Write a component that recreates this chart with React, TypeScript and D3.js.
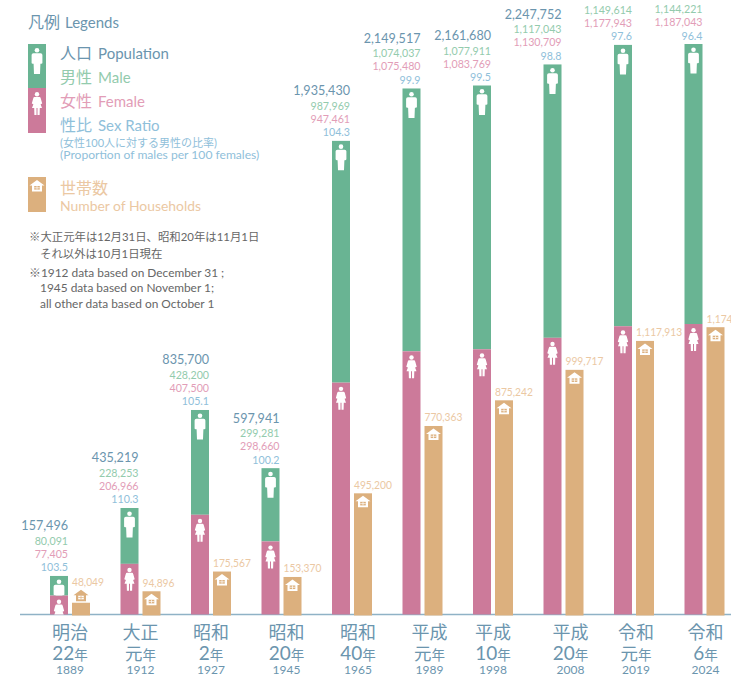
import React from "react";
import * as d3 from "d3";

const eras = ["明治","大正","昭和","昭和","昭和","平成","平成","平成","令和","令和"];
const eraYears = ["22","元","2","20","40","元","10","20","元","6"];
const years = ["1889","1912","1927","1945","1965","1989","1998","2008","2019","2024"];
const population = [157496,435219,835700,597941,1935430,2149517,2161680,2247752,2327557,2331264];
const males = [80091,228253,428200,299281,987969,1074037,1077911,1117043,1149614,1144221];
const females = [77405,206966,407500,298660,947461,1075480,1083769,1130709,1177943,1187043];
const ratios = ["103.5","110.3","105.1","100.2","104.3","99.9","99.5","98.8","97.6","96.4"];
const households = [48049,94896,175567,153370,495200,770363,875242,999717,1117913,1174000];
const labelNudge = [1,1,1,6,7,8,1,8,3,2];

const W = 731, H = 675;
const C = { pop:"#6b95ae", male:"#93cbad", female:"#e29db7", ratio:"#8fc0da", hh:"#ebc8a3",
  gMale:"#69b493", gFemale:"#cc7a9a", gHh:"#dcb07e", axis:"#8fb2c6", note:"#666666" };
const FONT = "Lato, 'Noto Sans CJK JP', sans-serif";
const BASE = 614.5;

const y = d3.scaleLinear().domain([0, 2331264]).range([BASE, 44]);
const xBand = d3.scaleBand<number>().domain(d3.range(years.length)).range([32, 737]);
const fmt = d3.format(",");
const BW = 18, GAP = 4;

function Man({ x, y: t, fill = "#fff" }: { x: number; y: number; fill?: string }) {
  return (
    <g transform={`translate(${x},${t})`} fill={fill}>
      <circle cx={0} cy={2.3} r={2.3} />
      <path d="M-3.6 5.3 H3.6 Q5.4 5.3 5.4 7 V15 Q5.4 15.8 4.2 15.8 L3.4 15.8 L3 26 H-3 L-3.4 15.8 L-4.2 15.8 Q-5.4 15.8 -5.4 15 V7 Q-5.4 5.3 -3.6 5.3Z" />
    </g>
  );
}
function Woman({ x, y: t, fill = "#fff" }: { x: number; y: number; fill?: string }) {
  return (
    <g transform={`translate(${x},${t})`} fill={fill}>
      <circle cx={0} cy={2.2} r={2.2} />
      <path d="M-2.6 5 H2.6 Q3.4 5 3.8 6.4 L5.2 11.5 L3.6 12.2 L5 16 H2.8 L2.6 23 H0.5 V16 H-0.5 V23 H-2.6 L-2.8 16 H-5 L-3.6 12.2 L-5.2 11.5 L-3.8 6.4 Q-3.4 5 -2.6 5 Z" />
    </g>
  );
}
function House({ x, y: t, fill = "#fff", hole }: { x: number; y: number; fill?: string; hole: string }) {
  return (
    <g transform={`translate(${x},${t})`}>
      <path d="M0 0 L7.5 5.5 H5 V11.5 H-5 V5.5 H-7.5 Z" fill={fill} />
      <rect x={-2.8} y={6} width={5.6} height={3.6} fill={hole} />
      <path d="M0 6 V9.6 M-2.8 7.8 H2.8" stroke={fill} strokeWidth={0.7} />
    </g>
  );
}

function T({ x, y: ty, size, fill, anchor = "start", sx = 1, children }: any) {
  return <text transform={`translate(${x},${ty}) scale(${sx},1)`} fontSize={size} fill={fill} textAnchor={anchor} fontFamily={FONT}>{children}</text>;
}

export default function App() {
  return (
    <svg width={W} height={H} viewBox={`0 0 ${W} ${H}`} style={{ position: "absolute", left: 0, top: 0, overflow: "hidden", background: "#fff" }}>
      <defs>
        {years.map((yr, i) => {
          const x0 = xBand(i)! + 18;
          return (
            <React.Fragment key={yr}>
              <clipPath id={`cm${i}`}><rect x={x0} y={y(population[i])} width={BW} height={y(females[i]) - y(population[i])} /></clipPath>
              <clipPath id={`cf${i}`}><rect x={x0} y={y(females[i])} width={BW} height={BASE - y(females[i])} /></clipPath>
            </React.Fragment>
          );
        })}
      </defs>

      {/* legend */}
      <T x={28} y={28} size={16} fill={C.pop}>凡例<tspan fontSize={15} dx={5}>Legends</tspan></T>
      <rect x={28} y={44} width={18} height={44} fill={C.gMale} />
      <rect x={28} y={88} width={18} height={45} fill={C.gFemale} />
      <Man x={37} y={48} />
      <Woman x={37} y={92} />
      <T x={60} y={59} size={16} fill={C.pop}>人口<tspan fontSize={15} dx={6}>Population</tspan></T>
      <T x={60} y={83} size={16} fill={C.male}>男性<tspan fontSize={15} dx={6}>Male</tspan></T>
      <T x={60} y={107} size={16} fill={C.female}>女性<tspan fontSize={15} dx={6}>Female</tspan></T>
      <T x={60} y={131} size={16} fill={C.ratio}>性比<tspan fontSize={15} dx={6}>Sex Ratio</tspan></T>
      <T x={60} y={147} size={11} fill={C.ratio}>(女性100人に対する男性の比率)</T>
      <T x={60} y={159} size={12.1} fill={C.ratio}>(Proportion of males per 100 females)</T>
      <rect x={28} y={177} width={18} height={35} fill={C.gHh} />
      <House x={37} y={180} hole={C.gHh} />
      <T x={60} y={194} size={16} fill={C.hh}>世帯数</T>
      <T x={60} y={211} size={13.9} fill={C.hh}>Number of Households</T>

      {/* notes */}
      <T x={29} y={241} size={11.4} fill={C.note}>※大正元年は12月31日、昭和20年は11月1日</T>
      <T x={40} y={258} size={11.4} fill={C.note}>それ以外は10月1日現在</T>
      <T x={29} y={277} size={11.9} fill={C.note}>※1912 data based on December 31 ;</T>
      <T x={40} y={292} size={11.9} fill={C.note}>1945 data based on November 1;</T>
      <T x={40} y={308} size={11.9} fill={C.note}>all other data based on October 1</T>

      <line x1={20} x2={W} y1={BASE} y2={BASE} stroke={C.axis} strokeWidth={1.5} />

      {years.map((yr, i) => {
        const x0 = xBand(i)! + 18;
        const cx = x0 + BW / 2;
        const right = x0 + BW;
        const hx = right + GAP;
        const hcx = hx + BW / 2;
        const top = y(population[i]);
        const fTop = y(females[i]);
        const hTop = y(households[i]);
        const short = BASE - hTop < 20;
        const hLabelY = short ? hTop - 17 : hTop - 4.5;
        return (
          <g key={yr}>
            <rect x={x0} y={top} width={BW} height={fTop - top} fill={C.gMale} />
            <rect x={x0} y={fTop} width={BW} height={BASE - fTop} fill={C.gFemale} />
            <g clipPath={`url(#cm${i})`}><Man x={cx} y={top + 3.5} /></g>
            <g clipPath={`url(#cf${i})`}><Woman x={cx} y={fTop + 4} /></g>
            <rect x={hx} y={hTop} width={BW} height={BASE + 1 - hTop} fill={C.gHh} />
            {short
              ? <House x={hcx} y={hTop - 13} fill={C.gHh} hole="#fff" />
              : <House x={hcx} y={hTop + 2.5} hole={C.gHh} />}

            <T x={right} y={top - 4.5} size={11.6} sx={0.92} fill={C.ratio} anchor="end">{ratios[i]}</T>
            <T x={right} y={top - 18} size={11.6} sx={0.92} fill={C.female} anchor="end">{fmt(females[i])}</T>
            <T x={right} y={top - 31} size={11.6} sx={0.92} fill={C.male} anchor="end">{fmt(males[i])}</T>
            {top - 45.5 > 0 && <T x={right} y={top - 45.5} size={14} sx={0.9} fill={C.pop} anchor="end">{fmt(population[i])}</T>}
            <T x={hx} y={hLabelY} size={11} sx={0.93} fill={C.hh}>{fmt(households[i])}</T>

            <g transform={`translate(${hx - 3 + labelNudge[i]},0)`}>
              <T x={0} y={638.5} size={18} fill={C.pop} anchor="middle">{eras[i]}</T>
              <T x={0} y={660} size={eraYears[i] === "元" ? 17.5 : 19} fill={C.pop} anchor="middle">{eraYears[i]}<tspan fontSize={13.5}>年</tspan></T>
              <T x={0} y={673.5} size={12} fill={C.pop} anchor="middle">{yr}</T>
            </g>
          </g>
        );
      })}
    </svg>
  );
}
